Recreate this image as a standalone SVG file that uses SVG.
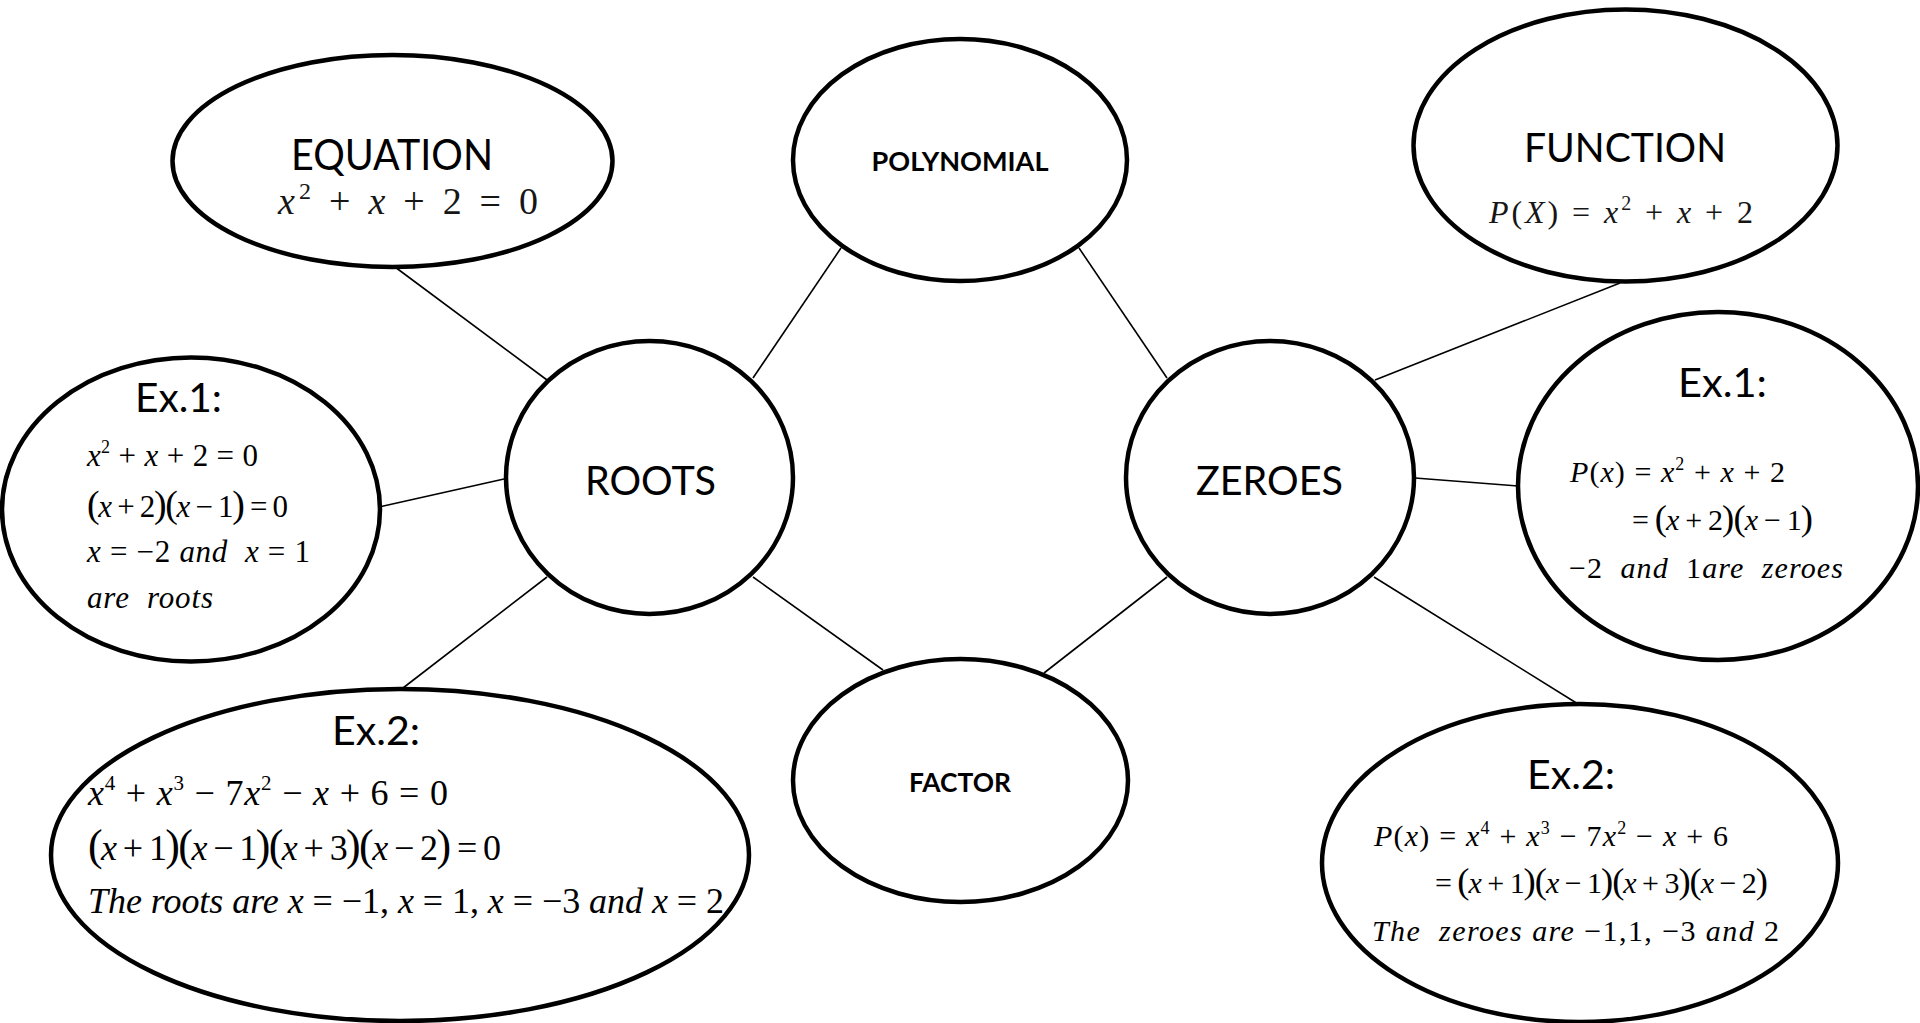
<svg xmlns="http://www.w3.org/2000/svg" width="1920" height="1023" viewBox="0 0 1920 1023">
<style>
.node ellipse { fill: #fff; stroke: #000; stroke-width: 4.5; }
.conn line { stroke: #000; stroke-width: 1.6; }
.cal { font-family: Lato, "Open Sans", sans-serif; fill: #000; }
.b { font-weight: bold; }
.m { font-family: "Liberation Serif", "Times New Roman", serif; fill: #000; }
.cm { font-family: "Liberation Serif", "Times New Roman", serif; fill: #161616; }
.i { font-style: italic; }
.p { font-size: 1.22em; }
</style>
<rect width="1920" height="1023" fill="#fff"/>
<g id="connectors" class="conn">
  <line x1="395" y1="267" x2="547" y2="380"/>
  <line x1="841" y1="248" x2="753" y2="378"/>
  <line x1="1079" y1="248" x2="1167" y2="378"/>
  <line x1="1375" y1="380" x2="1620" y2="283"/>
  <line x1="504" y1="479" x2="379" y2="507"/>
  <line x1="1415" y1="478" x2="1518" y2="486"/>
  <line x1="547" y1="577" x2="403" y2="688"/>
  <line x1="753" y1="577" x2="883" y2="670"/>
  <line x1="1167" y1="577" x2="1044" y2="673"/>
  <line x1="1374" y1="577" x2="1578" y2="704"/>
</g>
<g id="equation" class="node">
  <ellipse cx="392.5" cy="161" rx="220" ry="106"/>
  <text class="cal" x="392" y="170" font-size="42" text-anchor="middle" textLength="202" lengthAdjust="spacingAndGlyphs">EQUATION</text>
  <text class="cm" x="278" y="214" font-size="38" textLength="260" lengthAdjust="spacing"><tspan class="i">x</tspan><tspan font-size="24" dy="-15">2</tspan><tspan dy="15"> + </tspan><tspan class="i">x</tspan> + 2 = 0</text>
</g>
<g id="polynomial" class="node">
  <ellipse cx="960" cy="160" rx="167" ry="121"/>
  <text class="cal b" x="960" y="171" font-size="27" text-anchor="middle" textLength="177" lengthAdjust="spacingAndGlyphs">POLYNOMIAL</text>
</g>
<g id="function" class="node">
  <ellipse cx="1625.5" cy="145.5" rx="212" ry="136"/>
  <text class="cal" x="1625" y="162" font-size="40" text-anchor="middle" textLength="202" lengthAdjust="spacingAndGlyphs">FUNCTION</text>
  <text class="cm" x="1489" y="223" font-size="32" textLength="264" lengthAdjust="spacing"><tspan class="i">P</tspan>(<tspan class="i">X</tspan>) = <tspan class="i">x</tspan><tspan font-size="20" dy="-13">2</tspan><tspan dy="13"> + </tspan><tspan class="i">x</tspan> + 2</text>
</g>
<g id="roots" class="node">
  <ellipse cx="649.5" cy="477.5" rx="143.5" ry="136.5"/>
  <text class="cal" x="650.5" y="495" font-size="40" text-anchor="middle" textLength="131" lengthAdjust="spacingAndGlyphs">ROOTS</text>
</g>
<g id="zeroes" class="node">
  <ellipse cx="1270" cy="477.5" rx="144" ry="136.5"/>
  <text class="cal" x="1269.5" y="495" font-size="40" text-anchor="middle" textLength="147" lengthAdjust="spacingAndGlyphs">ZEROES</text>
</g>
<g id="factor" class="node">
  <ellipse cx="960.5" cy="780.5" rx="167.5" ry="121.5"/>
  <text class="cal b" x="960" y="792" font-size="27" text-anchor="middle" textLength="102" lengthAdjust="spacingAndGlyphs">FACTOR</text>
</g>
<g id="ex1-roots" class="node">
  <ellipse cx="191" cy="509.5" rx="189" ry="152"/>
  <text class="cal" x="135" y="412" font-size="40" textLength="87" lengthAdjust="spacingAndGlyphs">Ex.1:</text>
  <text class="m" x="87" y="466" font-size="31" textLength="171" lengthAdjust="spacing"><tspan class="i">x</tspan><tspan font-size="18" dy="-13">2</tspan><tspan dy="13"> + </tspan><tspan class="i">x</tspan> + 2 = 0</text>
  <text class="m" x="87" y="517" font-size="31" textLength="201" lengthAdjust="spacing"><tspan class="p">(</tspan><tspan class="i">x</tspan> + 2<tspan class="p">)(</tspan><tspan class="i">x</tspan> − 1<tspan class="p">)</tspan> = 0</text>
  <text class="m" x="87" y="562" font-size="31" textLength="223" lengthAdjust="spacing"><tspan class="i">x</tspan> = −2 <tspan class="i">and</tspan>&#160; <tspan class="i">x</tspan> = 1</text>
  <text class="m i" x="87" y="608" font-size="31" textLength="126" lengthAdjust="spacing">are&#160; roots</text>
</g>
<g id="ex2-roots" class="node">
  <ellipse cx="400" cy="855" rx="349" ry="166"/>
  <text class="cal" x="332" y="745" font-size="40" textLength="88" lengthAdjust="spacingAndGlyphs">Ex.2:</text>
  <text class="m" x="88" y="805" font-size="36" textLength="360" lengthAdjust="spacing"><tspan class="i">x</tspan><tspan font-size="21" dy="-15">4</tspan><tspan dy="15"> + </tspan><tspan class="i">x</tspan><tspan font-size="21" dy="-15">3</tspan><tspan dy="15"> − 7</tspan><tspan class="i">x</tspan><tspan font-size="21" dy="-15">2</tspan><tspan dy="15"> − </tspan><tspan class="i">x</tspan> + 6 = 0</text>
  <text class="m" x="88" y="860" font-size="36" textLength="413" lengthAdjust="spacing"><tspan class="p">(</tspan><tspan class="i">x</tspan> + 1<tspan class="p">)(</tspan><tspan class="i">x</tspan> − 1<tspan class="p">)(</tspan><tspan class="i">x</tspan> + 3<tspan class="p">)(</tspan><tspan class="i">x</tspan> − 2<tspan class="p">)</tspan> = 0</text>
  <text class="m" x="88" y="913" font-size="36" textLength="636" lengthAdjust="spacing"><tspan class="i">The roots are</tspan> <tspan class="i">x</tspan> = −1, <tspan class="i">x</tspan> = 1, <tspan class="i">x</tspan> = −3 <tspan class="i">and</tspan> <tspan class="i">x</tspan> = 2</text>
</g>
<g id="ex1-zeroes" class="node">
  <ellipse cx="1718" cy="486" rx="200" ry="174"/>
  <text class="cal" x="1678" y="397" font-size="40" textLength="89" lengthAdjust="spacingAndGlyphs">Ex.1:</text>
  <text class="m" x="1570" y="482" font-size="30" textLength="215" lengthAdjust="spacing"><tspan class="i">P</tspan>(<tspan class="i">x</tspan>) = <tspan class="i">x</tspan><tspan font-size="18" dy="-12">2</tspan><tspan dy="12"> + </tspan><tspan class="i">x</tspan> + 2</text>
  <text class="m" x="1632" y="530" font-size="30" textLength="181" lengthAdjust="spacing">= <tspan class="p">(</tspan><tspan class="i">x</tspan> + 2<tspan class="p">)(</tspan><tspan class="i">x</tspan> − 1<tspan class="p">)</tspan></text>
  <text class="m" x="1569" y="578" font-size="30" textLength="274" lengthAdjust="spacing">−2&#160; <tspan class="i">and</tspan>&#160; 1<tspan class="i">are&#160; zeroes</tspan></text>
</g>
<g id="ex2-zeroes" class="node">
  <ellipse cx="1580" cy="863" rx="258" ry="159"/>
  <text class="cal" x="1527" y="789" font-size="40" textLength="88" lengthAdjust="spacingAndGlyphs">Ex.2:</text>
  <text class="m" x="1374" y="846" font-size="30" textLength="354" lengthAdjust="spacing"><tspan class="i">P</tspan>(<tspan class="i">x</tspan>) = <tspan class="i">x</tspan><tspan font-size="18" dy="-12">4</tspan><tspan dy="12"> + </tspan><tspan class="i">x</tspan><tspan font-size="18" dy="-12">3</tspan><tspan dy="12"> − 7</tspan><tspan class="i">x</tspan><tspan font-size="18" dy="-12">2</tspan><tspan dy="12"> − </tspan><tspan class="i">x</tspan> + 6</text>
  <text class="m" x="1435" y="893" font-size="30" textLength="333" lengthAdjust="spacing">= <tspan class="p">(</tspan><tspan class="i">x</tspan> + 1<tspan class="p">)(</tspan><tspan class="i">x</tspan> − 1<tspan class="p">)(</tspan><tspan class="i">x</tspan> + 3<tspan class="p">)(</tspan><tspan class="i">x</tspan> − 2<tspan class="p">)</tspan></text>
  <text class="m" x="1372" y="941" font-size="30" textLength="407" lengthAdjust="spacing"><tspan class="i">The&#160; zeroes are</tspan> −1,1, −3 <tspan class="i">and</tspan> 2</text>
</g>
</svg>
